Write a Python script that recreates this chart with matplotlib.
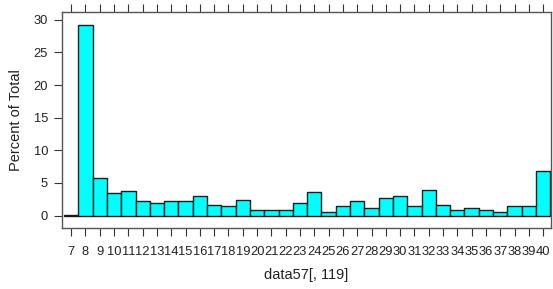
import matplotlib
matplotlib.use("Agg")
import matplotlib.pyplot as plt
import numpy as np

categories = list(range(7, 41))
percents = [0.15, 29.2, 5.8, 3.5, 3.8, 2.2, 1.9, 2.2, 2.2, 3.0, 1.6, 1.5, 2.4, 0.9, 0.9,
            0.9, 2.0, 3.6, 0.5, 1.5, 2.25, 1.2, 2.7, 3.0, 1.5, 3.9, 1.6, 0.8, 1.2, 0.9,
            0.5, 1.5, 1.5, 6.9]
yticks = [0, 5, 10, 15, 20, 25, 30]

plt.rcParams['font.family'] = ['Liberation Sans', 'DejaVu Sans']

fig = plt.figure(figsize=(5.53, 2.89), dpi=100)
W, H = 553, 289
left, right, top, bottom = 62, 551, 12, 228
ax = fig.add_axes([left / W, 1 - bottom / H, (right - left) / W, (bottom - top) / H])

ax.bar(categories, percents, width=1.0, color='#00FFFF', edgecolor='#1a1a1a', linewidth=1.0)
ax.set_xlim(6.36, 40.55)
ax.set_ylim(-1.9, 31.2)

ax.set_xticks(categories)
ax.set_xticklabels([str(c) for c in categories], fontsize=9.3, color='#222222')
ax.set_yticks(yticks)
ax.set_yticklabels([str(t) for t in yticks], fontsize=9.3, color='#222222')
ax.tick_params(axis='x', which='both', top=True, bottom=True, labeltop=False,
               direction='out', length=6, width=0.8, color='#333333', pad=7)
ax.tick_params(axis='y', which='both', left=True, right=False, direction='out',
               length=6, width=0.8, color='#333333', pad=4)
for s in ax.spines.values():
    s.set_color('#555555')
    s.set_linewidth(1.0)

ax.set_xlabel('data57[, 119]', fontsize=10.5, labelpad=7, color='#222222')
ax.set_ylabel('Percent of Total', fontsize=10.5, labelpad=8, color='#222222')

fig.savefig('out.png', dpi=100)
